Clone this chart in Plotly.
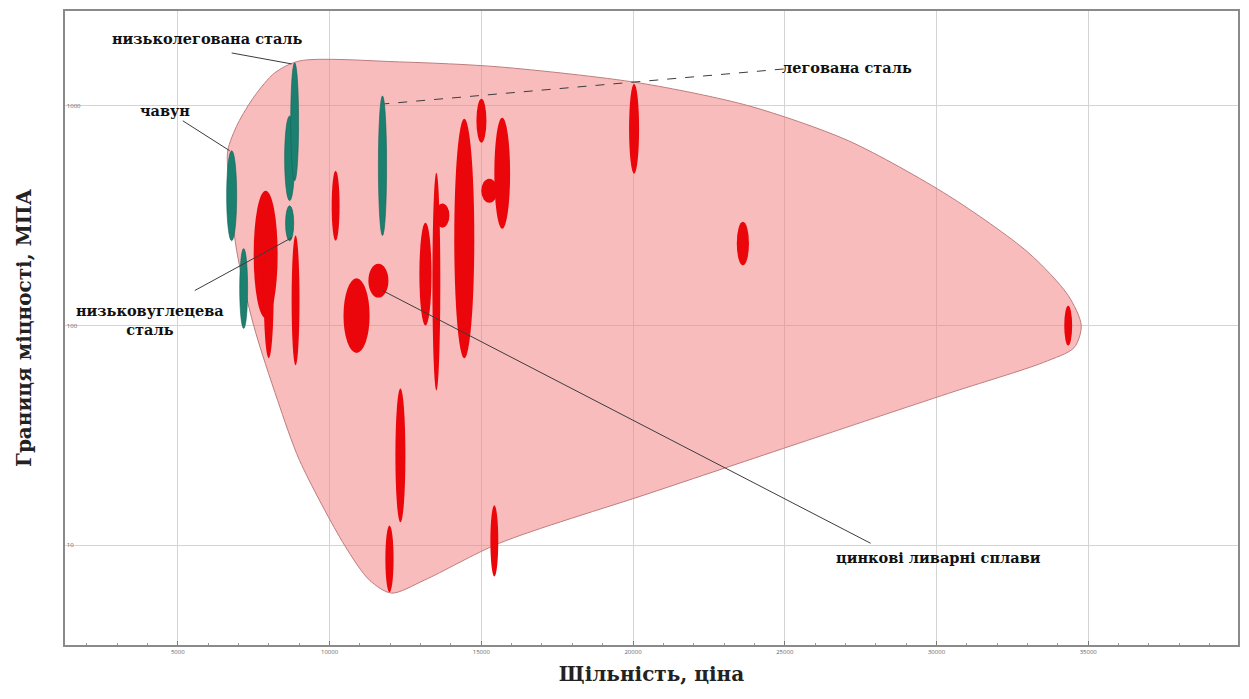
import math
import plotly.graph_objects as go

# ---- material property envelopes: density range (x) and strength range (y, MPa) ----
steel_x_lo = [6610, 7040, 8520, 8720, 8550, 11610]
steel_x_hi = [6940, 7300, 8850, 8980, 8820, 11880]
steel_y_lo = [243, 97, 370, 456, 243, 257]
steel_y_hi = [625, 224, 900, 1570, 351, 1110]

alloy_x_lo = [7500, 7830, 8750, 10070, 10460, 11280, 12170, 11840, 12960, 13390,
              13490, 14110, 14840, 15000, 15430, 15300, 19870, 23420, 34210]
alloy_x_hi = [8290, 8160, 9010, 10330, 11320, 11940, 12500, 12110, 13360, 13650,
              13950, 14770, 15170, 15530, 15950, 15560, 20200, 23820, 34470]
alloy_y_lo = [108, 71, 66, 243, 75, 134, 12.7, 6.1, 100, 50.6,
              279, 71, 679, 362, 276, 7.2, 491, 188, 81]
alloy_y_hi = [411, 294, 257, 507, 164, 191, 51.7, 12.3, 294, 496,
              359, 873, 1076, 466, 882, 15.2, 1259, 297, 123]

# outline of the whole family (closed bubble)
hull_x = [6645, 6974, 7533, 8191, 9013, 12303, 15592, 20197, 23816, 27105, 30395,
          33026, 34342, 34770, 34539, 33520, 30395, 25461, 20526, 15592, 13125,
          12040, 11316, 10493, 9013, 8290, 7500, 6941, 6678, 6645]
hull_y = [624.5, 828, 1110, 1412, 1601, 1585, 1504, 1272, 1000, 693, 390,
          214.7, 136.9, 100, 79.4, 67.9, 49.1, 29.1, 17.2, 10.2, 6.93,
          6.05, 6.93, 10, 24.3, 45.6, 100, 219, 456, 624.5]

x_ticks = [5000, 10000, 15000, 20000, 25000, 30000, 35000]
x_tick_text = ["5000", "10000", "15000", "20000", "25000", "30000", "35000"]
y_ticks = [10, 100, 1000]
y_tick_text = ["10", "100", "1000"]

# ---- labels with leader lines: (text, text x, text y, line from, line to, dash) ----
labels = [
    ("низьколегована сталь", 5987, 2016, (6776, 1741), (8750, 1552), "solid"),
    ("чавун", 4572, 948, (5164, 855), (6711, 624.5), "solid"),
    ("легована сталь", 27039, 1488, (24967, 1472), (11809, 1021), "dash"),
    ("низьковуглецева<br>сталь", 4079, 105.4, (5559, 144.3), (8750, 251), "solid"),
    ("цинкові ливарні сплави", 30066, 8.82, (27829, 10.2), (11743, 144.3), "solid"),
]

RED = "rgb(234,6,10)"
TEAL = "rgb(28,128,112)"
SERIF = "DejaVu Serif, Liberation Serif, serif"

fig = go.Figure()

fig.add_trace(go.Scatter(
    x=hull_x, y=hull_y, mode="lines", fill="toself",
    line=dict(shape="spline", smoothing=0.8, color="rgb(190,125,125)", width=1),
    fillcolor="rgba(244,122,122,0.5)", hoverinfo="skip", showlegend=False,
))

shapes = []
for x0, x1, y0, y1 in zip(alloy_x_lo, alloy_x_hi, alloy_y_lo, alloy_y_hi):
    shapes.append(dict(type="circle", xref="x", yref="y", x0=x0, x1=x1, y0=y0, y1=y1,
                       fillcolor=RED, line=dict(width=0)))
for x0, x1, y0, y1 in zip(steel_x_lo, steel_x_hi, steel_y_lo, steel_y_hi):
    shapes.append(dict(type="circle", xref="x", yref="y", x0=x0, x1=x1, y0=y0, y1=y1,
                       fillcolor=TEAL, line=dict(width=0.6, color="rgb(20,95,85)")))

annotations = []
for text, tx, ty, p0, p1, dash in labels:
    shapes.append(dict(type="line", xref="x", yref="y", x0=p0[0], y0=p0[1],
                       x1=p1[0], y1=p1[1],
                       line=dict(color="rgb(60,60,60)", width=1, dash=dash)))
    annotations.append(dict(x=tx, y=math.log10(ty), xref="x", yref="y", text=f"<b>{text}</b>",
                            showarrow=False, font=dict(family=SERIF, size=14.5, color="#111")))

fig.update_layout(
    width=1249, height=699,
    margin=dict(l=65, r=9, t=10, b=54),
    paper_bgcolor="white", plot_bgcolor="white",
    shapes=shapes, annotations=annotations,
    showlegend=False,
)

fig.update_xaxes(
    range=[1283, 39935], tickvals=x_ticks, ticktext=x_tick_text,
    tickfont=dict(size=6, color="#666"), showgrid=True, gridcolor="#d4d4d4", gridwidth=1,
    showline=True, linecolor="#8a8a8a", linewidth=2, mirror=True, zeroline=False,
    ticks="inside", ticklen=4, tickcolor="#777",
    minor=dict(ticks="inside", ticklen=2, tickcolor="#999", dtick=1000, showgrid=False),
    title=dict(text="<b>Щільність, ціна</b>", font=dict(family=SERIF, size=20, color="#222"),
               standoff=12),
)
fig.update_yaxes(
    type="log", range=[0.5455, 3.4318], tickvals=y_ticks, ticktext=y_tick_text,
    tickfont=dict(size=6, color="#666"), ticklabelposition="inside",
    showgrid=True, gridcolor="#d4d4d4", gridwidth=1,
    showline=True, linecolor="#8a8a8a", linewidth=2, mirror=True, zeroline=False,
    title=dict(text="<b>Границя міцності, МПА</b>", font=dict(family=SERIF, size=20, color="#222"),
               standoff=30),
)

fig.write_html("out.html")
